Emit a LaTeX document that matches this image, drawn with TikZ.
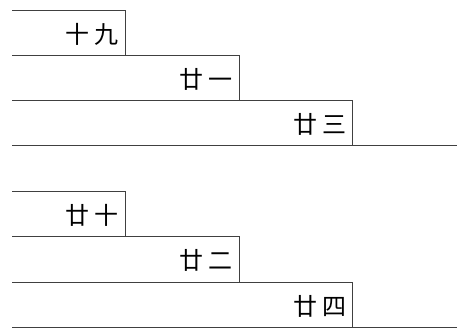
\documentclass[tikz,border=0pt]{standalone}
\usepackage{fontspec}
\newfontfamily\cjk[LetterSpace=22]{Noto Sans CJK SC}
\usepackage{tikz}

\tikzset{
  stair/.style={draw=black!75, line width=0.9pt},
  numlab/.style={anchor=east, inner sep=0pt, font=\cjk\fontsize{24}{24}\selectfont}
}

\begin{document}
\begin{tikzpicture}[x=1pt, y=-1pt]
\useasboundingbox (0,0) rectangle (457,329);

% Upper staircase
\foreach \t/\r/\lab [count=\i] in {10/125/十九, 55/239/廿一, 100/352.5/廿三} {
  \draw[stair] (12,\t) -- (\r,\t) -- (\r,\t+45);
  \node[numlab] (up\i) at (\r-6,\t+24) {\lab};
}
\draw[stair] (12,145) -- (457,145);

% Lower staircase
\foreach \t/\r/\lab [count=\i] in {191/125/廿十, 236.5/239/廿二, 282/352.5/廿四} {
  \draw[stair] (12,\t) -- (\r,\t) -- (\r,\t+45);
  \node[numlab] (lo\i) at (\r-6,\t+24) {\lab};
}
\draw[stair] (12,327) -- (457,327);

\end{tikzpicture}
\end{document}
